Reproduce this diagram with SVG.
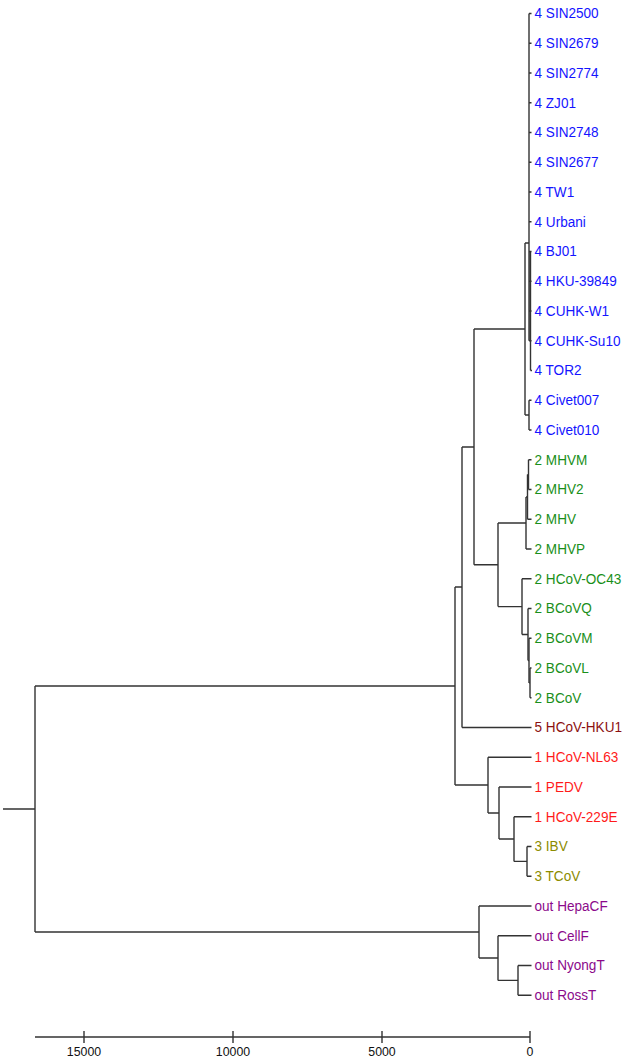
<svg xmlns="http://www.w3.org/2000/svg" width="625" height="1059" viewBox="0 0 625 1059">
<style>
.e{fill:none;stroke:#333;stroke-width:1.4}
.lb{font-family:"Liberation Sans",Arial,sans-serif;font-size:14.3px}
.ax{font-family:"Liberation Sans",Arial,sans-serif;font-size:13px;fill:#111;text-anchor:middle}
.c4{fill:#1414ff}.c2{fill:#1a8f1a}.c5{fill:#8b1010}.c1{fill:#ff1a1a}.c3{fill:#8c8c00}.co{fill:#8b0a8b}
</style>
<rect width="625" height="1059" fill="#fff"/>
<g id="connectors" class="e">
<path d="M3 809H35M35 686V932M35 686H455M35 932H479"/>
<path d="M455 587V785M455 587H462M455 785H488"/>
<path d="M462 447V727.5M462 447H474M462 727.5H531.5"/>
<path d="M474 329V564.8M474 329H525M474 564.8H498"/>
<path d="M525 243V415M525 243H529M525 415H529"/>
<path d="M529 13.5V340.75M530.5 251.5V370.5"/>
<path d="M529 13.5H531.5M529 43.25H531.5M529 73H531.5M529 102.75H531.5M529 132.5H531.5M529 162.25H531.5M529 192H531.5M529 221.75H531.5M529 251.5H531.5M529 281.25H531.5M529 311H531.5M529 340.75H531.5M530.5 370.5H532"/>
<path d="M529 400.25V430M529 400.25H531.5M529 430H531.5"/>
<path d="M498 523V606.6M498 523H526M498 606.6H522"/>
<path d="M526 497V549M526 497H527.5M526 549H531.5"/>
<path d="M527.5 474.6V519.25M527.5 474.6H528.5M527.5 519.25H531.5"/>
<path d="M528.5 459.75V489.5M528.5 459.75H531.5M528.5 489.5H531.5"/>
<path d="M522 578.75V634.5M522 578.75H531.5M522 634.5H528"/>
<path d="M528 608.5V660.6M528 608.5H531.5M528 660.6H529"/>
<path d="M529 638.25V682.9M529 638.25H531.5M529 682.9H530"/>
<path d="M530 668V697.75M530 668H531.5M530 697.75H531.5"/>
<path d="M488 757.25V813M488 757.25H531.5M488 813H499"/>
<path d="M499 787V839M499 787H531.5M499 839H514"/>
<path d="M514 816.75V861.4M514 816.75H531.5M514 861.4H527"/>
<path d="M527 846.5V876.25M527 846.5H531.5M527 876.25H531.5"/>
<path d="M479 906V958M479 906H531.5M479 958H498"/>
<path d="M498 935.75V980.4M498 935.75H531.5M498 980.4H518"/>
<path d="M518 965.5V995.25M518 965.5H531.5M518 995.25H531.5"/>
</g>
<g id="labels" class="lb" transform="translate(534.5 0) scale(0.95 1)">
<g id="SIN2500"><text class="c4" x="0" y="18.5">4 SIN2500</text></g>
<g id="SIN2679"><text class="c4" x="0" y="48.25">4 SIN2679</text></g>
<g id="SIN2774"><text class="c4" x="0" y="78">4 SIN2774</text></g>
<g id="ZJ01"><text class="c4" x="0" y="107.75">4 ZJ01</text></g>
<g id="SIN2748"><text class="c4" x="0" y="137.5">4 SIN2748</text></g>
<g id="SIN2677"><text class="c4" x="0" y="167.25">4 SIN2677</text></g>
<g id="TW1"><text class="c4" x="0" y="197">4 TW1</text></g>
<g id="Urbani"><text class="c4" x="0" y="226.75">4 Urbani</text></g>
<g id="BJ01"><text class="c4" x="0" y="256.5">4 BJ01</text></g>
<g id="HKU-39849"><text class="c4" x="0" y="286.25">4 HKU-39849</text></g>
<g id="CUHK-W1"><text class="c4" x="0" y="316">4 CUHK-W1</text></g>
<g id="CUHK-Su10"><text class="c4" x="0" y="345.75">4 CUHK-Su10</text></g>
<g id="TOR2"><text class="c4" x="0" y="375.5">4 TOR2</text></g>
<g id="Civet007"><text class="c4" x="0" y="405.25">4 Civet007</text></g>
<g id="Civet010"><text class="c4" x="0" y="435">4 Civet010</text></g>
<g id="MHVM"><text class="c2" x="0" y="464.75">2 MHVM</text></g>
<g id="MHV2"><text class="c2" x="0" y="494.5">2 MHV2</text></g>
<g id="MHV"><text class="c2" x="0" y="524.25">2 MHV</text></g>
<g id="MHVP"><text class="c2" x="0" y="554">2 MHVP</text></g>
<g id="HCoV-OC43"><text class="c2" x="0" y="583.75">2 HCoV-OC43</text></g>
<g id="BCoVQ"><text class="c2" x="0" y="613.5">2 BCoVQ</text></g>
<g id="BCoVM"><text class="c2" x="0" y="643.25">2 BCoVM</text></g>
<g id="BCoVL"><text class="c2" x="0" y="673">2 BCoVL</text></g>
<g id="BCoV"><text class="c2" x="0" y="702.75">2 BCoV</text></g>
<g id="HCoV-HKU1"><text class="c5" x="0" y="732.5">5 HCoV-HKU1</text></g>
<g id="HCoV-NL63"><text class="c1" x="0" y="762.25">1 HCoV-NL63</text></g>
<g id="PEDV"><text class="c1" x="0" y="792">1 PEDV</text></g>
<g id="HCoV-229E"><text class="c1" x="0" y="821.75">1 HCoV-229E</text></g>
<g id="IBV"><text class="c3" x="0" y="851.5">3 IBV</text></g>
<g id="TCoV"><text class="c3" x="0" y="881.25">3 TCoV</text></g>
<g id="HepaCF"><text class="co" x="0" y="911">out HepaCF</text></g>
<g id="CellF"><text class="co" x="0" y="940.75">out CellF</text></g>
<g id="NyongT"><text class="co" x="0" y="970.5">out NyongT</text></g>
<g id="RossT"><text class="co" x="0" y="1000.25">out RossT</text></g>
</g>
<g id="axis">
<path class="e" d="M35 1037H530M84 1031V1043M233 1031V1043M382 1031V1043M530 1031V1043"/>
<text class="ax" transform="translate(84 1056) scale(0.95 1)">15000</text>
<text class="ax" transform="translate(233 1056) scale(0.95 1)">10000</text>
<text class="ax" transform="translate(382 1056) scale(0.95 1)">5000</text>
<text class="ax" transform="translate(530 1056) scale(0.95 1)">0</text>
</g>
</svg>
